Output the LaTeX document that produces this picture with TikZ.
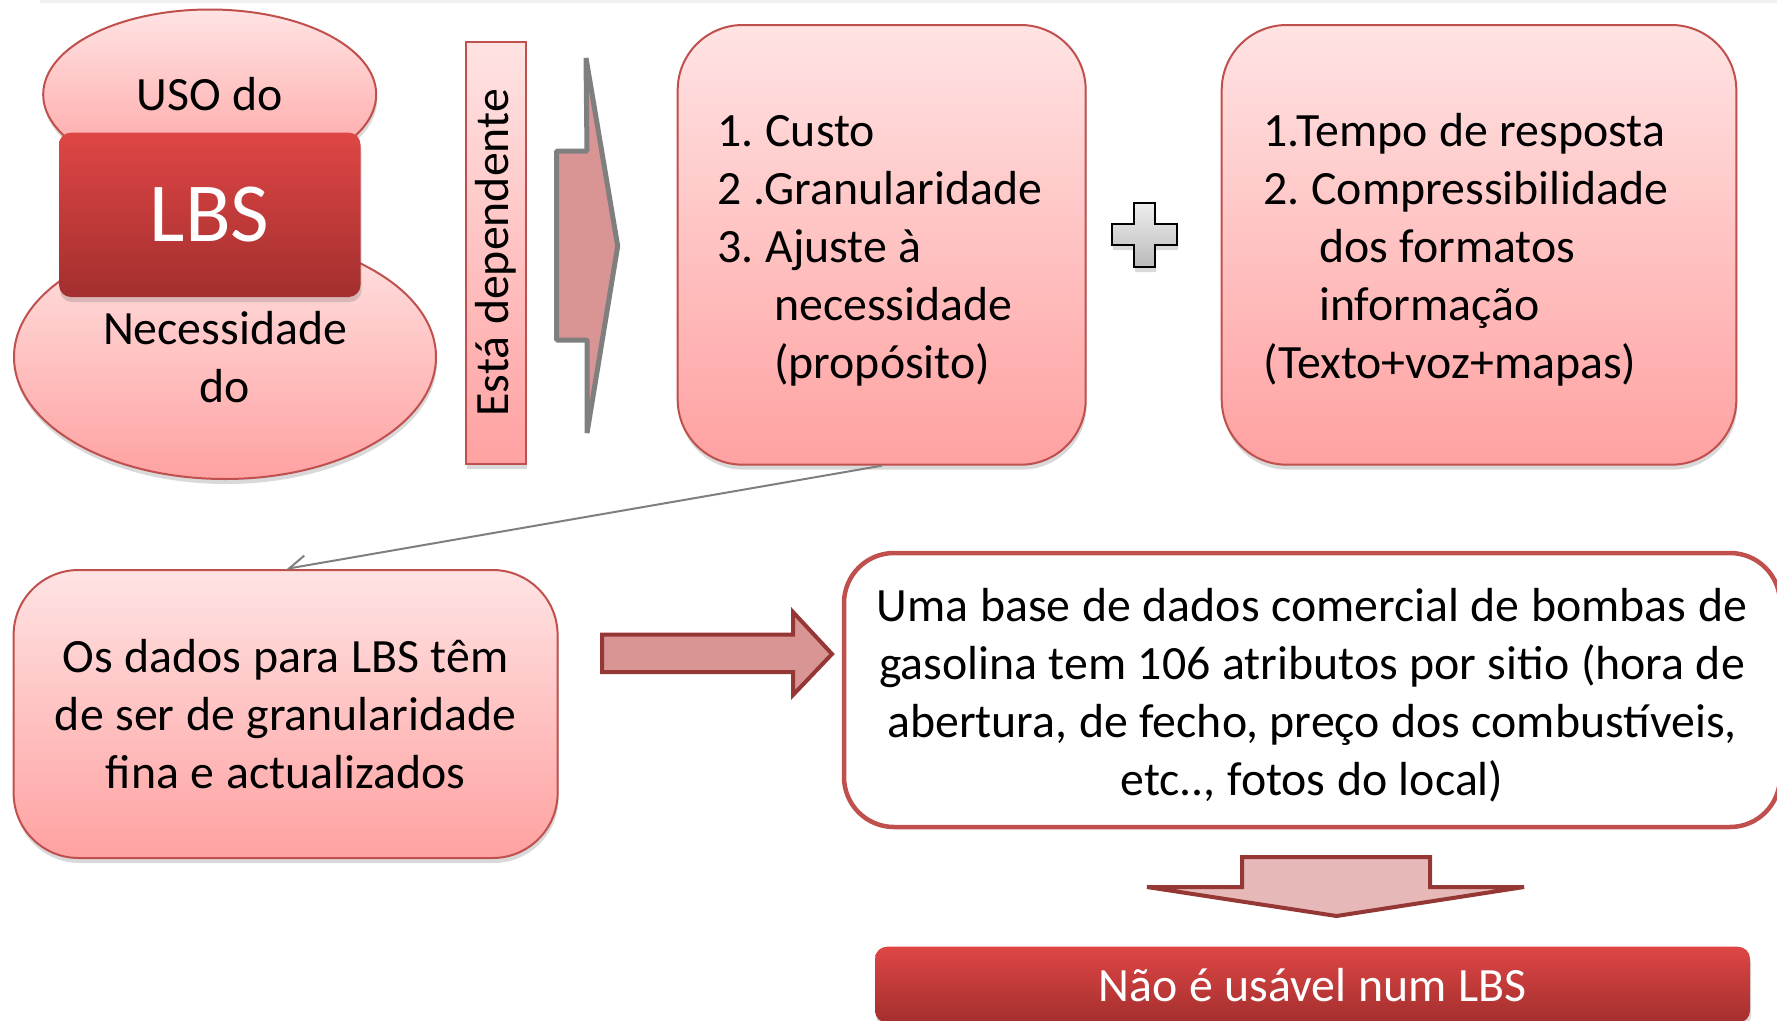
\documentclass[tikz,border=0pt]{standalone}
\usepackage{fontspec}
\setmainfont[WordSpace=1.07]{Carlito}
\usetikzlibrary{shapes.geometric,arrows.meta,shadows}
\definecolor{pinkT}{HTML}{FFE3E3}
\definecolor{pinkB}{HTML}{FFA1A1}
\definecolor{redline}{HTML}{C0504D}
\definecolor{lbsT}{HTML}{DE4645}
\definecolor{lbsB}{HTML}{A32F2E}
\definecolor{arrfill}{HTML}{D99594}
\definecolor{darkred}{HTML}{953735}
\definecolor{lightarr}{HTML}{E6B9B8}
\definecolor{chevgray}{HTML}{7F7F7F}
\tikzset{
  shad/.style={drop shadow={shadow xshift=1pt, shadow yshift=-5pt, opacity=0.25, fill=black!60}},
  pinkshape/.style={draw=redline, line width=2pt, top color=pinkT, bottom color=pinkB, shad},
  pinkbox/.style={pinkshape, rectangle, rounded corners=65pt},
  txt/.style={font=\fontsize{47.8}{57.8}\selectfont\frenchspacing, text=black},
  redbox/.style={rectangle, rounded corners=12pt, top color=lbsT, bottom color=lbsB, draw=none, text=white, shad},
  blockarrow/.style={draw=darkred, line width=4pt, line join=miter},
  conn/.style={draw=chevgray, line width=2pt, -{Straight Barb[harpoon, swap, length=17pt, width=20pt]}},
}
\begin{document}
\begin{tikzpicture}[x=1pt,y=-1pt]
\useasboundingbox (0,0) rectangle (1777,1020);
\clip (0,0) rectangle (1777,1020);
% faint top rule
\draw[black!6, line width=3pt] (40,1) -- (1777,1);

% ellipses and LBS
\node[pinkshape, ellipse, inner sep=0pt, minimum width=422pt, minimum height=244pt, txt, align=center]
  (need) at (225,357) {Necessidade\\do};
\node[pinkshape, ellipse, inner sep=0pt, minimum width=333pt, minimum height=170pt, txt]
  (uso) at (209.7,94.5) {USO do};
\node[redbox, minimum width=301.5pt, minimum height=164.4pt, inner sep=0pt,
  font=\fontsize{84}{92}\selectfont] (lbs) at (209.75,214.8) {LBS};

% vertical label
\node[draw=redline, line width=2pt, top color=pinkT, bottom color=pinkB, shad,
  rectangle, rotate=90, minimum width=421.5pt, minimum height=60pt, inner sep=0pt, txt]
  (dep) at (496,252.75) {Está dependente};

% chevron arrow
\draw[fill=arrfill, draw=chevgray, line width=5pt, line join=bevel]
  (556.5,151) -- (587,151) -- (586,58) -- (617.7,246) -- (587,433) -- (587,340) -- (556.5,340) -- cycle;

% box 1
\node[pinkbox, minimum width=408pt, minimum height=439.7pt, text width=328pt, inner xsep=40pt,
  align=flush left, txt] (b1) at (881.7,244.85)
  {\rule{0pt}{43pt}1. Custo\\
   2 .Granularidade\\
   3. Ajuste à\\
   \hspace*{56.6pt}necessidade\\
   \hspace*{56.6pt}(propósito)};

% plus sign
\path[draw=black, line width=2pt, top color=black!7, bottom color=black!27, shad]
  (1134,203) -- (1155,203) -- (1155,224) -- (1177,224) -- (1177,245) -- (1155,245) -- (1155,267)
  -- (1134,267) -- (1134,245) -- (1112,245) -- (1112,224) -- (1134,224) -- cycle;

% box 2
\node[pinkbox, minimum width=514.6pt, minimum height=439.7pt, text width=430.6pt, inner xsep=42pt,
  align=flush left, txt] (b2) at (1479,244.85)
  {\rule{0pt}{43pt}1.Tempo de resposta\\
   2. Compressibilidade\\
   \hspace*{55.4pt}dos formatos\\
   \hspace*{55.4pt}informação\\
   (Texto+voz+mapas)};

% box 3
\node[pinkbox, minimum width=544pt, minimum height=288pt, text width=500pt, inner xsep=22pt,
  align=flush center, txt] (b3) at (285.6,714)
  {Os dados para LBS têm\\de ser de granularidade\\fina e actualizados};

% connector
\draw[conn] (b1.south) -- (b3.north);

% right block arrow
\draw[blockarrow, fill=arrfill]
  (602,634.7) -- (793,634.7) -- (793,612) -- (832,654) -- (793,695) -- (793,672) -- (602,672) -- cycle;

% white box
\node[rectangle, rounded corners=50pt, draw=redline, line width=4.5pt, fill=white,
  minimum width=936pt, minimum height=274pt, text width=900pt, align=flush center, txt] (wb) at (1312,690)
  {\rule{0pt}{44pt}Uma base de dados comercial de bombas de\\
   gasolina tem 106 atributos por sitio (hora de\\
   abertura, de fecho, preço dos combustíveis,\\
   etc.., fotos do local)};

% down block arrow
\draw[blockarrow, fill=lightarr]
  (1242,887) -- (1242,857) -- (1430,857) -- (1430,887) -- (1524,887) -- (1336.5,916) -- (1147,887) -- cycle;

% bottom red box
\node[redbox, minimum width=875pt, minimum height=76pt, inner sep=0pt, txt, text=white]
  (res) at (1312.5,984.7) {Não é usável num LBS};
\end{tikzpicture}
\end{document}
